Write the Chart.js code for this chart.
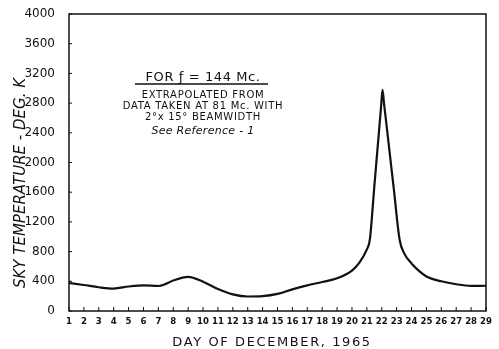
<!DOCTYPE html>
<html>
<head>
<meta charset="utf-8">
<script src="https://cdn.jsdelivr.net/npm/chart.js@4/dist/chart.umd.min.js"></script>
<style>
  html, body { margin: 0; padding: 0; background: #fff; }
  #wrap { width: 499px; height: 349px; }
</style>
</head>
<body>
<div id="wrap"><canvas id="myChart" width="499" height="349"></canvas></div>
<script>
//  data
const days  = [1, 2, 3, 4, 5, 6, 7, 7.5, 8, 9, 10, 11, 12, 13, 14, 15, 16, 17, 18, 19, 20, 20.5, 21, 21.2, 21.5, 21.8, 21.95, 22.05, 22.15, 22.4, 22.8, 23.2, 23.5, 24, 24.5, 25, 26, 27, 28, 29];
const temps = [377, 350, 320, 302, 330, 346, 337, 365, 410, 460, 395, 296, 224, 195, 200, 230, 292, 346, 390, 440, 545, 650, 830, 960, 1673, 2386, 2740, 2980, 2800, 2365, 1660, 960, 780, 640, 540, 465, 400, 360, 338, 340];

const yTicks = [0, 400, 800, 1200, 1600, 2000, 2400, 2800, 3200, 3600, 4000];
const noteLines = ["EXTRAPOLATED FROM", "DATA TAKEN AT 81 Mc. WITH", "2°x 15° BEAMWIDTH"];
const yTitle = "SKY TEMPERATURE - DEG. K";
const xTitle = "DAY OF DECEMBER, 1965";

//  frame, inside ticks, titles and the note
const framePlugin = {
    id: 'frame',
    afterDraw(chart) {
        const ctx = chart.ctx;
        const a = chart.chartArea;
        const xs = chart.scales.x;
        const ys = chart.scales.y;
        ctx.save();
        ctx.strokeStyle = '#111';
        ctx.lineWidth = 1.5;
        ctx.strokeRect(a.left, a.top, a.right - a.left, a.bottom - a.top);

        ctx.lineWidth = 1;
        for (let d = 1; d <= 29; d++) {
            const px = xs.getPixelForValue(d);
            ctx.beginPath();
            ctx.moveTo(px, a.bottom);
            ctx.lineTo(px, a.bottom - 4);
            ctx.stroke();
        }
        yTicks.forEach(v => {
            const py = ys.getPixelForValue(v);
            ctx.beginPath();
            ctx.moveTo(a.left, py);
            ctx.lineTo(a.left + 3, py);
            ctx.stroke();
        });

        ctx.fillStyle = '#111';
        ctx.textAlign = 'center';
        ctx.textBaseline = 'alphabetic';

        //  axis titles
        ctx.font = '13px "DejaVu Sans"';
        ctx.letterSpacing = '1.6px';
        ctx.fillText(xTitle, 272, 346);

        ctx.save();
        ctx.translate(25, 183);
        ctx.rotate(-Math.PI / 2);
        ctx.font = 'italic 15px "DejaVu Sans"';
        ctx.letterSpacing = '0px';
        ctx.fillText(yTitle, 0, 0);
        ctx.restore();

        //  note
        ctx.font = '13px "DejaVu Sans"';
        ctx.letterSpacing = '0.6px';
        ctx.fillText('FOR ƒ = 144 Mc.', 203, 81);
        ctx.lineWidth = 1.3;
        ctx.beginPath();
        ctx.moveTo(135, 84);
        ctx.lineTo(268, 84);
        ctx.stroke();
        ctx.font = '10px "DejaVu Sans"';
        ctx.letterSpacing = '0.7px';
        noteLines.forEach((t, i) => ctx.fillText(t, 203, 98 + i * 11));
        ctx.font = 'italic 11px "DejaVu Sans"';
        ctx.letterSpacing = '0.3px';
        ctx.fillText('See Reference - 1', 203, 134);
        ctx.restore();
    }
};

const data = {
    datasets: [{
        data: days.map((d, i) => ({x: d, y: temps[i]})),
        borderColor: '#111',
        borderWidth: 2.2,
        pointRadius: 0,
        fill: false,
        cubicInterpolationMode: 'monotone'
    }]
};

const config = {
    type: 'line',
    data: data,
    options: {
        responsive: false,
        animation: false,
        layout: { padding: { top: 14, right: 13, left: 0, bottom: 0 } },
        plugins: { legend: { display: false }, tooltip: { enabled: false } },
        scales: {
            x: {
                type: 'linear',
                min: 1,
                max: 29,
                afterFit: s => { s.height = 38; },
                grid: { display: false },
                border: { display: false },
                ticks: {
                    stepSize: 1,
                    autoSkip: false,
                    maxRotation: 0,
                    padding: -3,
                    color: '#111',
                    font: { family: 'DejaVu Sans Condensed', size: 9.5, weight: 'bold' }
                }
            },
            y: {
                min: 0,
                max: 4000,
                afterFit: s => { s.width = 69; },
                grid: { display: false },
                border: { display: false },
                ticks: {
                    stepSize: 400,
                    padding: 6,
                    color: '#111',
                    font: { family: 'DejaVu Sans', size: 12 },
                    callback: v => String(v)
                }
            }
        }
    },
    plugins: [framePlugin]
};

let myChart = new Chart(document.getElementById('myChart'), config);
</script>
</body>
</html>
